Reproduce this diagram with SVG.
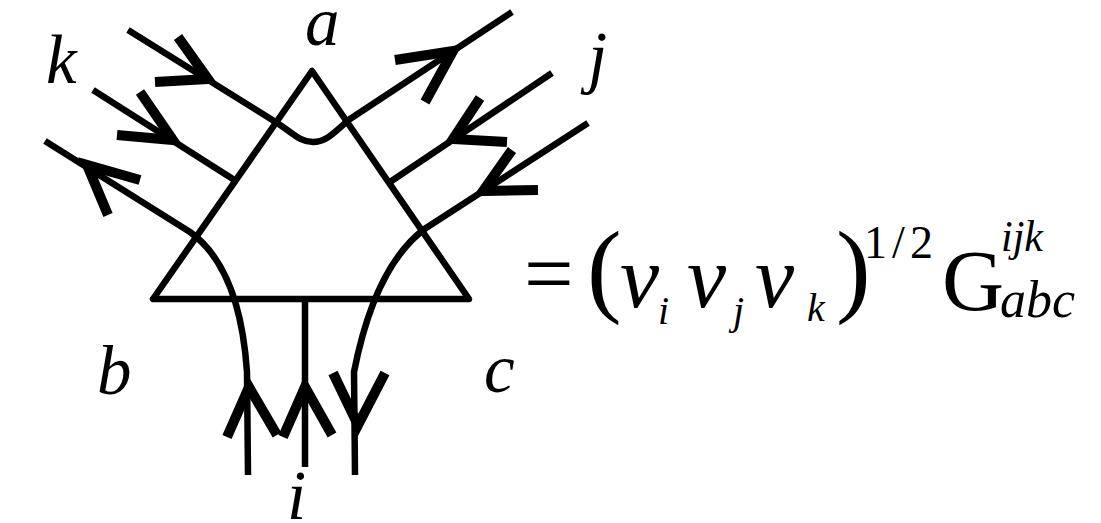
<svg xmlns="http://www.w3.org/2000/svg" width="1101" height="523" viewBox="0 0 1101 523">
<style>
.ln{fill:none;stroke:#000;stroke-width:6.5;stroke-linecap:butt;stroke-linejoin:round}
.ar{fill:none;stroke:#000;stroke-width:10;stroke-linecap:butt;stroke-linejoin:miter}
.lb{font-family:"Liberation Serif","Times New Roman",serif;font-style:italic;font-size:69px;fill:#000}
.eq{font-family:"Liberation Serif","Times New Roman",serif;fill:#000}
.it{font-style:italic}
</style>
<rect width="1101" height="523" fill="#fff"/>
<g id="triangle">
<path class="ln" d="M312,71 L153,299 L469,299 Z"/>
</g>
<g id="connectors">
<path class="ln" d="M128,30 L274,121 C292,132 299,142 313,142 C327,142 334,132 350,119 L512,12"/>
<path class="ln" d="M93,90 L236,181"/>
<path class="ln" d="M45,141 L190,232 Q240,268 247,372 L248,475"/>
<path class="ln" d="M552,73 L390,182"/>
<path class="ln" d="M588,123 L426,228 Q375,265 354,372 L355,475"/>
<path class="ln" d="M305,299 L305,467"/>
</g>
<g id="arrows">
<polyline class="ar" points="155,82 208,79 178,37"/>
<polyline class="ar" points="117,135 173,140 140,92"/>
<polyline class="ar" points="140,180 87,165 108,215"/>
<polyline class="ar" points="395,60 453,51 425,102"/>
<polyline class="ar" points="507,142 453,139 480,98"/>
<polyline class="ar" points="538,190 483,191 512,150"/>
<polyline class="ar" points="227,437 249,387 277,435"/>
<polyline class="ar" points="283,437 305,387 332,435"/>
<polyline class="ar" points="333,373 358,425 385,373"/>
</g>
<g id="labels">
<text class="lb" x="305" y="45">a</text>
<text class="lb" x="46" y="83">k</text>
<text class="lb" x="588" y="80">j</text>
<text class="lb" x="97" y="394">b</text>
<text class="lb" x="484" y="392">c</text>
<text class="lb" x="287" y="519">i</text>
</g>
<g id="equation" class="eq">
<text x="524" y="303" font-size="88">=</text>
<text x="587" y="303" font-size="104">(</text>
<text x="620" y="307" font-size="88" class="it">v</text>
<text x="658" y="324" font-size="40" class="it">i</text>
<text x="687" y="307" font-size="88" class="it">v</text>
<text x="733" y="324" font-size="40" class="it">j</text>
<text x="755" y="307" font-size="88" class="it">v</text>
<text x="807" y="321" font-size="40" class="it">k</text>
<text x="836" y="303" font-size="104">)</text>
<text x="864" y="258" font-size="46" textLength="69" lengthAdjust="spacing">1/2</text>
<text x="942" y="310" font-size="86">G</text>
<text x="1001" y="251" font-size="44" class="it" textLength="42" lengthAdjust="spacingAndGlyphs">ijk</text>
<text x="1000" y="317" font-size="52" class="it">abc</text>
</g>
</svg>
